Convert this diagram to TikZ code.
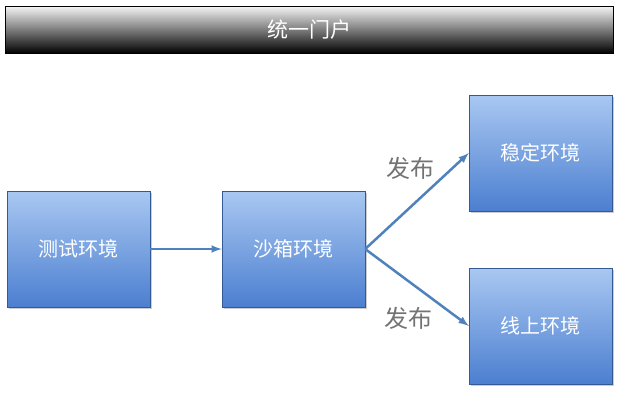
\documentclass[tikz,border=0pt]{standalone}
\usepackage{fontspec}
\newfontfamily\cjk{Noto Sans CJK SC}
\usetikzlibrary{shadows}
\definecolor{boxtop}{HTML}{A9C8F2}
\definecolor{boxbot}{HTML}{4C7FD0}
\definecolor{arrowblue}{HTML}{4F81BD}
\begin{document}
\begin{tikzpicture}[x=1pt,y=-1pt,
	envbox/.style={draw=boxbot!70!black,top color=boxtop,bottom color=boxbot,
		minimum width=143pt,minimum height=116pt,inner sep=0pt,
		font=\cjk\fontsize{20}{24}\selectfont,text=white,
		drop shadow={shadow xshift=2pt,shadow yshift=-2pt,opacity=0.4}},
	flow/.style={->,>=latex,draw=arrowblue,line width=2.5pt},
	tag/.style={font=\cjk\fontsize{24}{28}\selectfont,text=black!55}]
	\useasboundingbox (0,0) rectangle (618,400);

	% portal bar
	\node[draw=black,top color=black!5,bottom color=black,minimum width=608pt,
		minimum height=47pt,inner sep=0pt,text=white,
		font=\cjk\fontsize{21}{24}\selectfont] (portal) at (309,30) {统一门户};

	% environments
	\node[envbox] (test)    at (78.5,249)  {测试环境};
	\node[envbox] (sandbox) at (293.5,249) {沙箱环境};
	\node[envbox] (stable)  at (540.5,153) {稳定环境};
	\node[envbox] (online)  at (540.5,326) {线上环境};

	\draw[flow] (test) -- (sandbox);
	\draw[flow] (sandbox.east) -- (stable.west);
	\draw[flow] (sandbox.east) -- (online.west);

	\node[tag] (pub1) at (410,168) {发布};
	\node[tag] (pub2) at (408,318) {发布};
\end{tikzpicture}
\end{document}
